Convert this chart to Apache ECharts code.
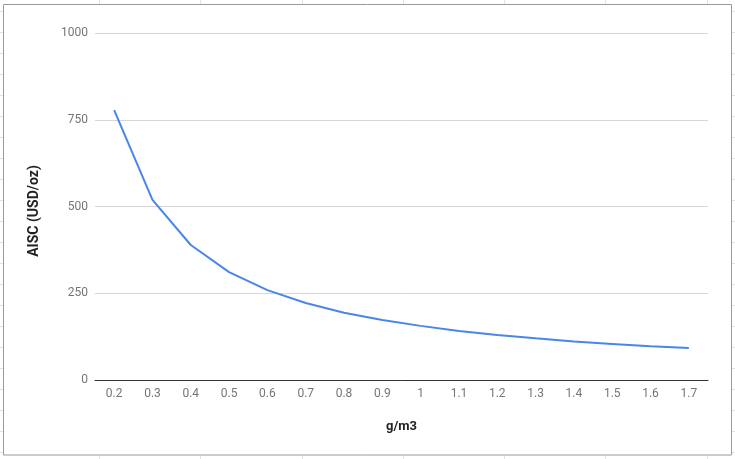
<!DOCTYPE html>
<html>
<head>
<meta charset="utf-8">
<script src="https://cdn.jsdelivr.net/npm/echarts@6/dist/echarts.min.js"></script>
<style>
html,body{margin:0;padding:0;background:#fff;}
#c{width:735px;height:459px;}
</style>
</head>
<body>
<div id="c"></div>
<script>
const categories = ['0.2','0.3','0.4','0.5','0.6','0.7','0.8','0.9','1','1.1','1.2','1.3','1.4','1.5','1.6','1.7'];
const aiscValues = [778, 519, 389, 311, 259, 222, 194, 173, 156, 141, 130, 120, 111, 104, 97, 92];
const yTicks = [0, 250, 500, 750, 1000];
const xAxisTitle = 'g/m3';
const yAxisTitle = 'AISC (USD/oz)';

const chart = echarts.init(document.getElementById('c'), null, {renderer: 'canvas'});

// decorative spreadsheet cell lines outside the chart box
const deco = [];
const colX = [99.5, 200.5, 302.5, 403.5, 504.5, 605.5, 707.5];
colX.forEach(x => {
  deco.push({type:'line', shape:{x1:x, y1:0, x2:x, y2:4}, style:{stroke:'#e2e2e2', lineWidth:1}, silent:true});
  deco.push({type:'line', shape:{x1:x, y1:456, x2:x, y2:459}, style:{stroke:'#e2e2e2', lineWidth:1}, silent:true});
});
for (let y = 11.5; y < 459; y += 21) {
  deco.push({type:'line', shape:{x1:0, y1:y, x2:3, y2:y}, style:{stroke:'#e2e2e2', lineWidth:1}, silent:true});
  deco.push({type:'line', shape:{x1:732, y1:y, x2:735, y2:y}, style:{stroke:'#e2e2e2', lineWidth:1}, silent:true});
}
deco.push({type:'rect', shape:{x:3.5, y:4.5, width:728, height:450.5}, style:{fill:'#fff', stroke:'#9a9a9a', lineWidth:1}, silent:true, z:-10});
// y axis title
deco.push({type:'text', x:34, y:211, rotation: Math.PI / 2,
  style:{text: yAxisTitle, fill:'#222', font:'bold 14px Roboto', align:'center', verticalAlign:'middle'}, silent:true});

chart.setOption({
  animation: false,
  backgroundColor: '#fff',
  textStyle: {fontFamily: 'Roboto'},
  graphic: deco,
  grid: {left: 95, right: 27, top: 33, bottom: 79, containLabel: false},
  xAxis: {
    type: 'category',
    data: categories,
    boundaryGap: true,
    name: xAxisTitle,
    nameLocation: 'middle',
    nameGap: 40,
    nameTextStyle: {fontFamily: 'Roboto', fontWeight: 'bold', fontSize: 13, color: '#222'},
    axisLine: {show: true, lineStyle: {color: '#333', width: 1}},
    axisTick: {show: false},
    axisLabel: {fontFamily: 'Roboto', fontSize: 12, color: '#757575', margin: 8, interval: 0},
    splitLine: {show: false}
  },
  yAxis: {
    type: 'value',
    min: yTicks[0],
    max: yTicks[yTicks.length - 1],
    interval: yTicks[1] - yTicks[0],
    axisLine: {show: false},
    axisTick: {show: false},
    axisLabel: {fontFamily: 'Roboto', fontSize: 12, color: '#757575', margin: 7,
      formatter: v => String(v)},
    splitLine: {show: true, lineStyle: {color: '#d6d6d6', width: 1}}
  },
  series: [{
    type: 'line',
    data: aiscValues,
    showSymbol: false,
    symbol: 'none',
    smooth: false,
    lineStyle: {color: '#4a86e8', width: 2},
    itemStyle: {color: '#4a86e8'}
  }]
});
</script>
</body>
</html>
